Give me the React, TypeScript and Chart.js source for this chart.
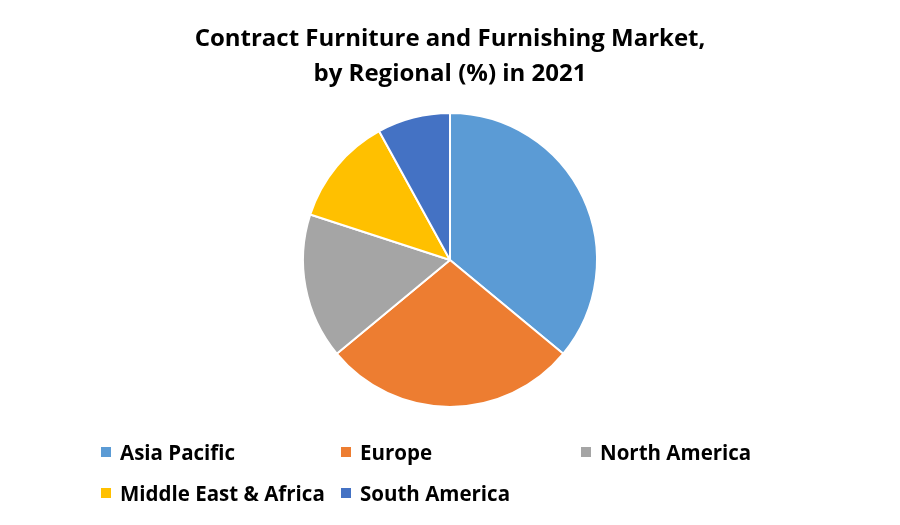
import { useEffect, useRef } from 'react';
import { Chart, registerables } from 'chart.js';

Chart.register(...registerables);

const titleLines = ['Contract Furniture and Furnishing Market,', 'by Regional (%) in 2021'];
const regions = ['Asia Pacific', 'Europe', 'North America', 'Middle East & Africa', 'South America'];
const shares = [36, 28, 16, 12, 8];
const sliceColors = ['#5B9BD5', '#ED7D31', '#A5A5A5', '#FFC000', '#4472C4'];

// legend item placement (Excel-style two rows)
const legendSpots = [
    { x: 101, y: 447 },
    { x: 341, y: 447 },
    { x: 581, y: 447 },
    { x: 101, y: 488 },
    { x: 341, y: 488 },
];

const FONT = '"Open Sans", "DejaVu Sans", sans-serif';

export default function App() {
    const canvasRef = useRef<HTMLCanvasElement>(null);
    const chartRef = useRef<Chart<'pie'> | null>(null);

    useEffect(() => {
        if (!canvasRef.current) return;
        const ctx = canvasRef.current.getContext('2d');
        if (!ctx) return;
        chartRef.current = new Chart(ctx, {
            type: 'pie',
            data: {
                labels: regions,
                datasets: [{
                    data: shares,
                    backgroundColor: sliceColors,
                    borderColor: '#ffffff',
                    borderWidth: 2,
                }]
            },
            options: {
                responsive: false,
                animation: false,
                layout: { padding: { top: 112, bottom: 117, left: 0, right: 0 } },
                plugins: {
                    legend: { display: false },
                    tooltip: { enabled: false },
                    title: { display: false },
                }
            }
        });
        return () => chartRef.current?.destroy();
    }, []);

    return (
        <div style={{ position: 'absolute', left: 0, top: 0, width: 900, height: 525, background: '#fff', fontFamily: FONT, overflow: 'hidden' }}>
            <canvas ref={canvasRef} width={900} height={525} style={{ position: 'absolute', left: 0, top: 0 }}></canvas>

            {titleLines.map((line, i) => (
                <div key={line} style={{
                    position: 'absolute', left: 0, width: 900, top: 20 + i * 35, textAlign: 'center',
                    fontWeight: 700, fontSize: 24, lineHeight: '34px', color: '#000'
                }}>
                    {line}
                </div>
            ))}

            {regions.map((name, i) => (
                <div key={name} style={{ position: 'absolute', left: legendSpots[i].x, top: legendSpots[i].y, height: 10, display: 'flex', alignItems: 'center', whiteSpace: 'nowrap' }}>
                    <span style={{ width: 10, height: 10, background: sliceColors[i], display: 'inline-block' }}></span>
                    <span style={{ marginLeft: 9, fontWeight: 700, fontSize: 20.5, color: '#000', lineHeight: '10px' }}>{name}</span>
                </div>
            ))}
        </div>
    );
}
